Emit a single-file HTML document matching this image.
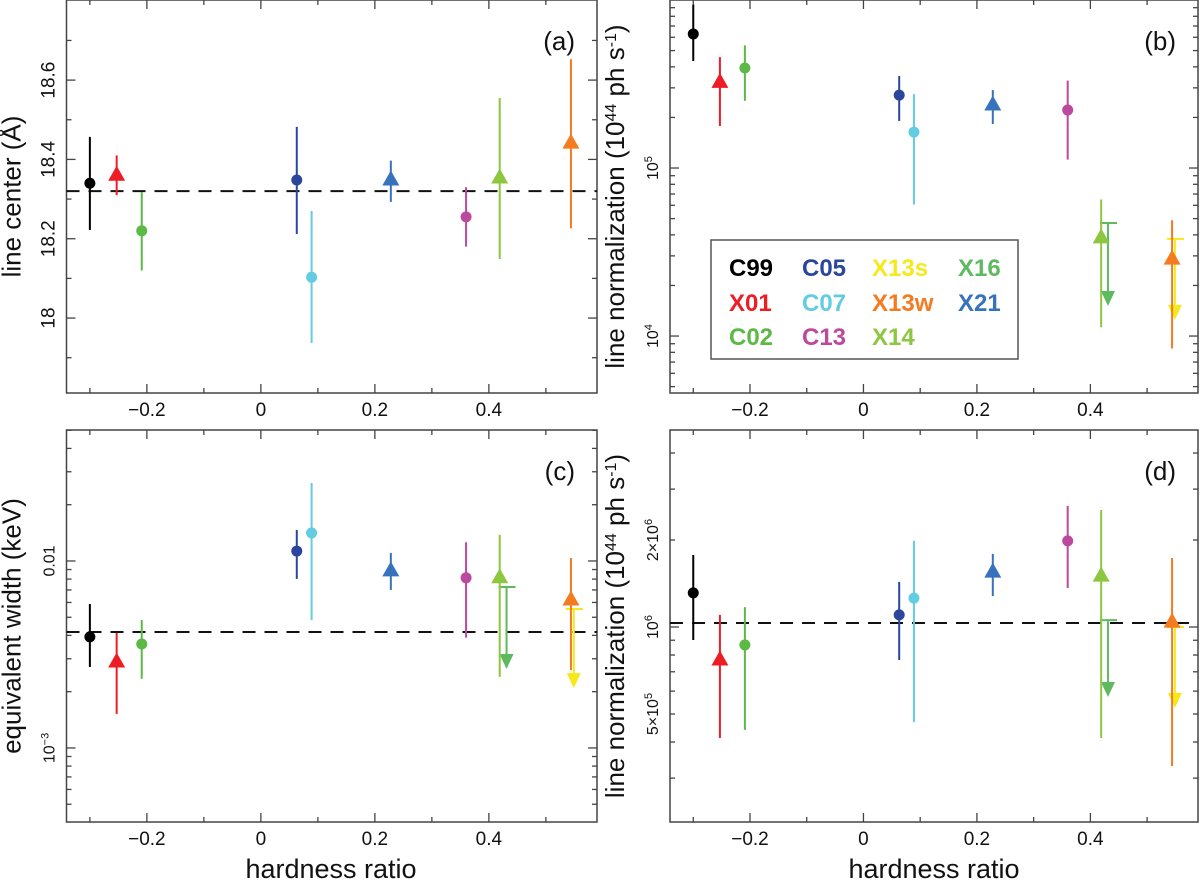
<!DOCTYPE html>
<html><head><meta charset="utf-8"><style>
html,body{margin:0;padding:0;background:#fff;}
svg{display:block;font-family:"Liberation Sans",Arial,sans-serif;}
</style></head><body>
<svg id="fig" width="1200" height="887" viewBox="0 0 1200 887" xmlns="http://www.w3.org/2000/svg"></svg>
<script>
// ---- data ----
const sources = ["C99","X01","C02","C05","C07","X21","C13","X14","X13w"];
const hardness = [-0.300,-0.253,-0.209,0.063,0.089,0.228,0.360,0.419,0.544];
const colors = ["#000000","#ee1c25","#5cb946","#2b479d","#62cde0","#3673bc","#bb4a9e","#8dc63f","#f47b20"];
const shapes = ["c","t","c","c","c","t","c","t","t"];
// panel a: line center
const centerVal = [18.340,18.360,18.220,18.348,18.103,18.348,18.255,18.353,18.441];
const centerLo  = [18.222,18.310,18.120,18.212,17.937,18.293,18.180,18.149,18.226];
const centerHi  = [18.457,18.410,18.318,18.482,18.270,18.397,18.330,18.555,18.653];
const centerRef = 18.32;
// panel b: log10 line normalization
const normBVal = [5.798,5.510,5.595,5.434,5.214,5.375,5.345,4.584,4.458];
const normBLo  = [5.637,5.250,5.400,5.280,4.783,5.262,5.050,4.052,3.926];
const normBHi  = [5.972,5.660,5.730,5.548,5.440,5.464,5.520,4.813,4.689];
// panel c: log10 equivalent width
const ewVal = [-2.406,-2.540,-2.444,-1.947,-1.850,-2.053,-2.090,-2.090,-2.209];
const ewLo  = [-2.567,-2.818,-2.630,-2.096,-2.316,-2.155,-2.410,-2.620,-2.583];
const ewHi  = [-2.230,-2.385,-2.316,-1.834,-1.583,-1.957,-1.900,-1.860,-1.984];
const ewRef = -2.38;
// panel d: log10 line normalization
const normDVal = [6.118,5.886,5.938,6.042,6.100,6.190,6.298,6.176,6.017];
const normDLo  = [5.955,5.616,5.644,5.886,5.671,6.107,6.135,5.616,5.519];
const normDHi  = [6.249,6.042,6.069,6.156,6.298,6.253,6.419,6.405,6.239];
const normDRef = 6.014;
// upper limits (X16, X13s)
const ulSources = ["X16","X13s"];
const ulHardness = [0.431,0.549];
const ulColors = ["#5fba5f","#f7e81a"];
const ulB = [4.673,4.578], ulBTip = [4.179,4.096];
const ulC = [-2.139,-2.257], ulCTip = [-2.578,-2.680];
const ulD = [6.024,6.000], ulDTip = [5.758,5.720];
const xMajor = [-0.2,0,0.2,0.4];
const xMajorLabels = ["\u22120.2","0","0.2","0.4"];
const xMinor = [-0.3,-0.1,0.1,0.3,0.5];

const NS="http://www.w3.org/2000/svg";
const svg=document.getElementById('fig');
function mk(tag,attrs,parent){const e=document.createElementNS(NS,tag);for(const k in attrs)e.setAttribute(k,attrs[k]);(parent||svg).appendChild(e);return e;}

const XMIN=-0.341, XMAX=0.5897;
function makePanel(cfg){
  const g=mk('g',{});
  
  
  const W=cfg.x1-cfg.x0, H=cfg.y1-cfg.y0;
  cfg.sx=h=>cfg.x0+(h-XMIN)/(XMAX-XMIN)*W;
  cfg.sy=v=>cfg.y0+(cfg.ytop-v)/(cfg.ytop-cfg.ybot)*H;
  const fr=mk('rect',{x:cfg.x0,y:cfg.y0,width:W,height:H,fill:'none',stroke:'#444','stroke-width':1.5},g);
  
  
  xMajor.forEach((t,i)=>{const x=cfg.sx(t);
    mk('line',{x1:x,x2:x,y1:cfg.y1,y2:cfg.y1-9,stroke:'#444','stroke-width':1.3},g);
    mk('line',{x1:x,x2:x,y1:cfg.y0,y2:cfg.y0+9,stroke:'#444','stroke-width':1.3},g);
    const tl=mk('text',{x:x,y:cfg.y1+23,'text-anchor':'middle','font-size':19,fill:'#111'},g);
    tl.textContent=xMajorLabels[i];
    
    
  });
  xMinor.forEach(t=>{const x=cfg.sx(t);
    mk('line',{x1:x,x2:x,y1:cfg.y1,y2:cfg.y1-5,stroke:'#444','stroke-width':1.3},g);
    mk('line',{x1:x,x2:x,y1:cfg.y0,y2:cfg.y0+5,stroke:'#444','stroke-width':1.3},g);
  });
  cfg.yMajor.forEach(v=>{const y=cfg.sy(v);
    mk('line',{x1:cfg.x0,x2:cfg.x0+9,y1:y,y2:y,stroke:'#444','stroke-width':1.3},g);
    mk('line',{x1:cfg.x1,x2:cfg.x1-9,y1:y,y2:y,stroke:'#444','stroke-width':1.3},g);
  });
  cfg.yMinor.forEach(v=>{const y=cfg.sy(v); if(y<cfg.y0||y>cfg.y1)return;
    mk('line',{x1:cfg.x0,x2:cfg.x0+5,y1:y,y2:y,stroke:'#444','stroke-width':1.3},g);
    mk('line',{x1:cfg.x1,x2:cfg.x1-5,y1:y,y2:y,stroke:'#444','stroke-width':1.3},g);
  });
  cfg.yLabels.forEach((lab,i)=>{const y=cfg.sy(cfg.yLabelPos[i]);const lx=cfg.x0-18;
    const t=mk('text',{x:lx,y:y,'text-anchor':'middle','font-size':lab.small?16:19,fill:'#111',transform:`rotate(-90 ${lx} ${y})`,dy:6},g);
    
    
    if(lab.pre){const a=mk('tspan',{},t);a.textContent=lab.pre;}
    if(lab.sup){const s=mk('tspan',{'baseline-shift':'super','font-size':11},t);s.textContent=lab.sup;}
  });
  const tx=cfg.x0-46, ty=(cfg.y0+cfg.y1)/2;
  const tt=mk('text',{x:tx,y:ty,'text-anchor':'middle','font-size':26,fill:'#111',transform:`rotate(-90 ${tx} ${ty})`},g);
  
  
  cfg.title.forEach(p=>{const s=mk('tspan',p.sup?{'baseline-shift':'super','font-size':16}:{},tt);s.textContent=p.t;});
  const pl=mk('text',{x:cfg.x1-22,y:cfg.y0+50,'text-anchor':'end','font-size':26,fill:'#111'},g);
  pl.textContent=cfg.label;
  
  
  if(cfg.ref!==undefined){const y=cfg.sy(cfg.ref);
    const rl=mk('line',{x1:cfg.x0,x2:cfg.x1,y1:y,y2:y,stroke:'#111','stroke-width':2,'stroke-dasharray':'13 9'},g);
    
    
  }
  if(cfg.ul){ulSources.forEach((s,i)=>{const x=cfg.sx(ulHardness[i]);const y=cfg.sy(cfg.ul[i]);const yt=cfg.sy(cfg.ulTip[i]);
    const ug=mk('g',{stroke:ulColors[i],fill:ulColors[i],'stroke-width':2},g);
    
    
    mk('line',{x1:x-8,x2:x+9,y1:y,y2:y},ug);
    mk('line',{x1:x,x2:x,y1:y,y2:yt-12},ug);
    mk('path',{d:`M${x-7},${yt-15} L${x+7},${yt-15} L${x},${yt} Z`,stroke:'none'},ug);
  });}
  sources.forEach((s,i)=>{const x=cfg.sx(hardness[i]);
    const pg=mk('g',{stroke:colors[i],fill:colors[i]},g);
    
    
    mk('line',{x1:x,x2:x,y1:cfg.sy(cfg.hi[i]),y2:cfg.sy(cfg.lo[i]),'stroke-width':2},pg);
    const y=cfg.sy(cfg.val[i]);
    if(shapes[i]==='c') mk('circle',{cx:x,cy:y,r:5.5,stroke:'none'},pg);
    else mk('path',{d:`M${x-8.5},${y+5.5} L${x+8.5},${y+5.5} L${x},${y-9.5} Z`,stroke:'none'},pg);
  });
  return g;
}
function logMinors(a,b){const r=[];for(let k=a;k<=b;k++)for(let m=2;m<=9;m++)r.push(k+Math.log10(m));return r;}

makePanel({name:'panel-a-line-center',label:'(a)',x0:66.5,x1:597,y0:0,y1:393,ytop:18.802,ybot:17.811,
  yMajor:[18,18.2,18.4,18.6],yMinor:[17.9,18.1,18.3,18.5,18.7],
  yLabels:[{pre:'18'},{pre:'18.2'},{pre:'18.4'},{pre:'18.6'}],yLabelPos:[18,18.2,18.4,18.6],
  title:[{t:'line center (Å)'}],val:centerVal,lo:centerLo,hi:centerHi,ref:centerRef});
makePanel({name:'panel-b-line-normalization',label:'(b)',x0:670,x1:1198,y0:0,y1:393,ytop:6.0,ybot:3.661,
  yMajor:[4,5],yMinor:logMinors(3,5),
  yLabels:[{pre:'10',sup:'4',small:1},{pre:'10',sup:'5',small:1}],yLabelPos:[4,5],
  title:[{t:'line normalization (10'},{t:'44',sup:1},{t:' ph s'},{t:'-1',sup:1},{t:')'}],
  val:normBVal,lo:normBLo,hi:normBHi,ul:ulB,ulTip:ulBTip});
makePanel({name:'panel-c-equivalent-width',label:'(c)',x0:66.5,x1:597,y0:430,y1:822,ytop:-1.2995,ybot:-3.396,
  yMajor:[-3,-2],yMinor:logMinors(-4,-2),
  yLabels:[{pre:'10',sup:'−3',small:1},{pre:'0.01',small:1}],yLabelPos:[-3,-2],
  title:[{t:'equivalent width (keV)'}],val:ewVal,lo:ewLo,hi:ewHi,ref:ewRef,ul:ulC,ulTip:ulCTip});
makePanel({name:'panel-d-line-normalization',label:'(d)',x0:670,x1:1198,y0:430,y1:822,ytop:6.6817,ybot:5.3253,
  yMajor:[6],yMinor:logMinors(5,6),
  yLabels:[{pre:'5×10',sup:'5',small:1},{pre:'10',sup:'6',small:1},{pre:'2×10',sup:'6',small:1}],yLabelPos:[Math.log10(5e5),6,Math.log10(2e6)],
  title:[{t:'line normalization (10'},{t:'44',sup:1},{t:' ph s'},{t:'-1',sup:1},{t:')'}],
  val:normDVal,lo:normDLo,hi:normDHi,ref:normDRef,ul:ulD,ulTip:ulDTip});

[[331,869],[934,869]].forEach(p=>{const t=mk('text',{x:p[0],y:p[1]+9,'text-anchor':'middle','font-size':27,fill:'#111'});
  t.textContent='hardness ratio';
  
  });

const lg=mk('g',{});


mk('rect',{x:711,y:240,width:307,height:119,fill:'#fff',stroke:'#555','stroke-width':1.5},lg);
const legNames=[["C99","X01","C02"],["C05","C07","C13"],["X13s","X13w","X14"],["X16","X21"]];
const legColors=[["#000000","#ee1c25","#5cb946"],["#2b479d","#62cde0","#bb4a9e"],["#f7e81a","#f47b20","#8dc63f"],["#5fba5f","#3673bc"]];
const legX=[729,802,872,958], legY=[267,302,336];
legNames.forEach((col,c)=>col.forEach((n,r)=>{
  const t=mk('text',{x:legX[c],y:legY[r]+9,'font-size':24,'font-weight':'bold',fill:legColors[c][r]},lg);
  t.textContent=n;
  
  
}));
</script>
</body></html>
